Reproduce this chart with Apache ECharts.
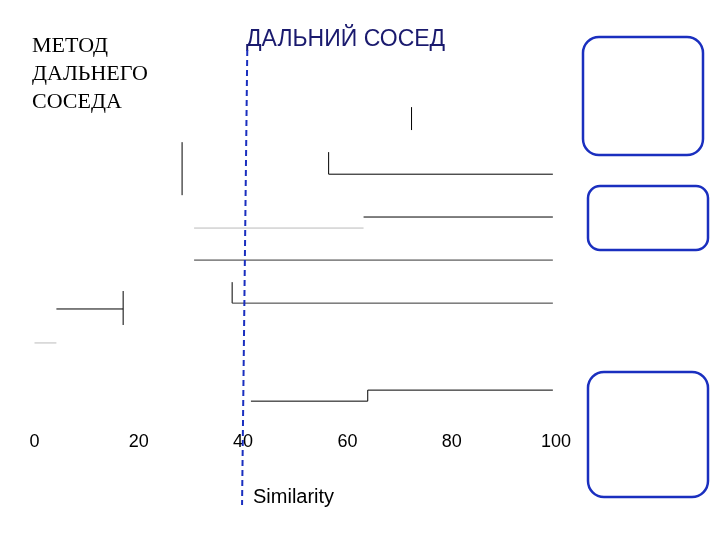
<!DOCTYPE html><html><head><meta charset="utf-8"><script src="https://cdn.jsdelivr.net/npm/echarts@6/dist/echarts.min.js"></script></head><body style="margin:0"><div id="c" style="width:720px;height:540px"></div><script>
const species=["Hydrobia ulvae","Macoma baltica","Mya arenaria","Nereis pelagica","Pararia littoralis","Littorina saxatilis","Littorina littorea","Mytilus edulis","Tubifex spp.","Arenicola marina","Eteone longa","Cricotopus vitripennis","Pygospio elegans","Peloscolex benedeni","Scoloplos armiger"];
const xTicks=[0,20,40,60,80,100];
// segments [x1,row1,x2,row2,color]
const segments=[
[72.3,-0.23,72.3,0.83,"#000"],
[28.3,1.39,28.3,3.84,"#000"],
[56.4,1.85,56.4,2.87,"#000"],[56.4,2.87,99.4,2.87,"#000"],
[63.1,4.85,99.4,4.85,"#000"],
[30.6,5.36,63.1,5.36,"#bbb"],
[30.6,6.84,99.4,6.84,"#333"],
[37.9,7.86,37.9,8.83,"#000"],[37.9,8.83,99.4,8.83,"#333"],
[17.0,8.27,17.0,9.84,"#000"],[4.2,9.1,17.0,9.1,"#000"],
[0,10.67,4.2,10.67,"#bbb"],
[63.9,12.85,99.4,12.85,"#000"],[63.9,12.85,63.9,13.36,"#000"],[41.5,13.36,63.9,13.36,"#000"]
];
const cutLine=[[40.8,-2.87],[39.8,18.16]];
const series=segments.map(s=>({type:'line',data:[[s[0],s[1]],[s[2],s[3]]],symbol:'none',lineStyle:{color:s[4],width:1},silent:true}));
series.push({type:'line',data:cutLine,symbol:'none',lineStyle:{color:'#1a2fbf',width:2,type:[6,4]}});
series.push({type:'scatter',clip:false,data:species.map((n,i)=>[101.1,i,n]),symbol:'circle',symbolSize:1,itemStyle:{opacity:0},label:{show:true,position:'right',distance:0,formatter:p=>p.data[2],fontFamily:'Arial',fontSize:11,color:'#222'}});
const ch=echarts.init(document.getElementById('c'));
ch.setOption({animation:false,
grid:{left:34.5,width:521.5,top:50,height:455},
xAxis:{type:'value',min:0,max:100,interval:20,offset:-72,axisLine:{show:false},axisTick:{show:false},splitLine:{show:false},axisLabel:{fontFamily:'Arial',fontSize:18,color:'#000',margin:0}},
yAxis:{type:'value',min:-2.87,max:18.16,inverse:true,show:false},
series:series,
graphic:[
{type:'text',left:32,top:32,style:{text:'МЕТОД\nДАЛЬНЕГО\nСОСЕДА',font:'22px "Liberation Serif"',lineHeight:28,fill:'#000'}},
{type:'text',left:246,top:28,style:{text:'ДАЛЬНИЙ СОСЕД',font:'23px "Liberation Sans"',fill:'#1a1a6e'}},
{type:'text',left:253,top:487,style:{text:'Similarity',font:'20px "Liberation Sans"',fill:'#000'}},
{type:'rect',shape:{x:583,y:37,width:120,height:118,r:16},style:{fill:'none',stroke:'#1a2fbf',lineWidth:2.5}},
{type:'rect',shape:{x:588,y:186,width:120,height:64,r:12},style:{fill:'none',stroke:'#1a2fbf',lineWidth:2.5}},
{type:'rect',shape:{x:588,y:372,width:120,height:125,r:16},style:{fill:'none',stroke:'#1a2fbf',lineWidth:2.5}}
]});
</script></body></html>
